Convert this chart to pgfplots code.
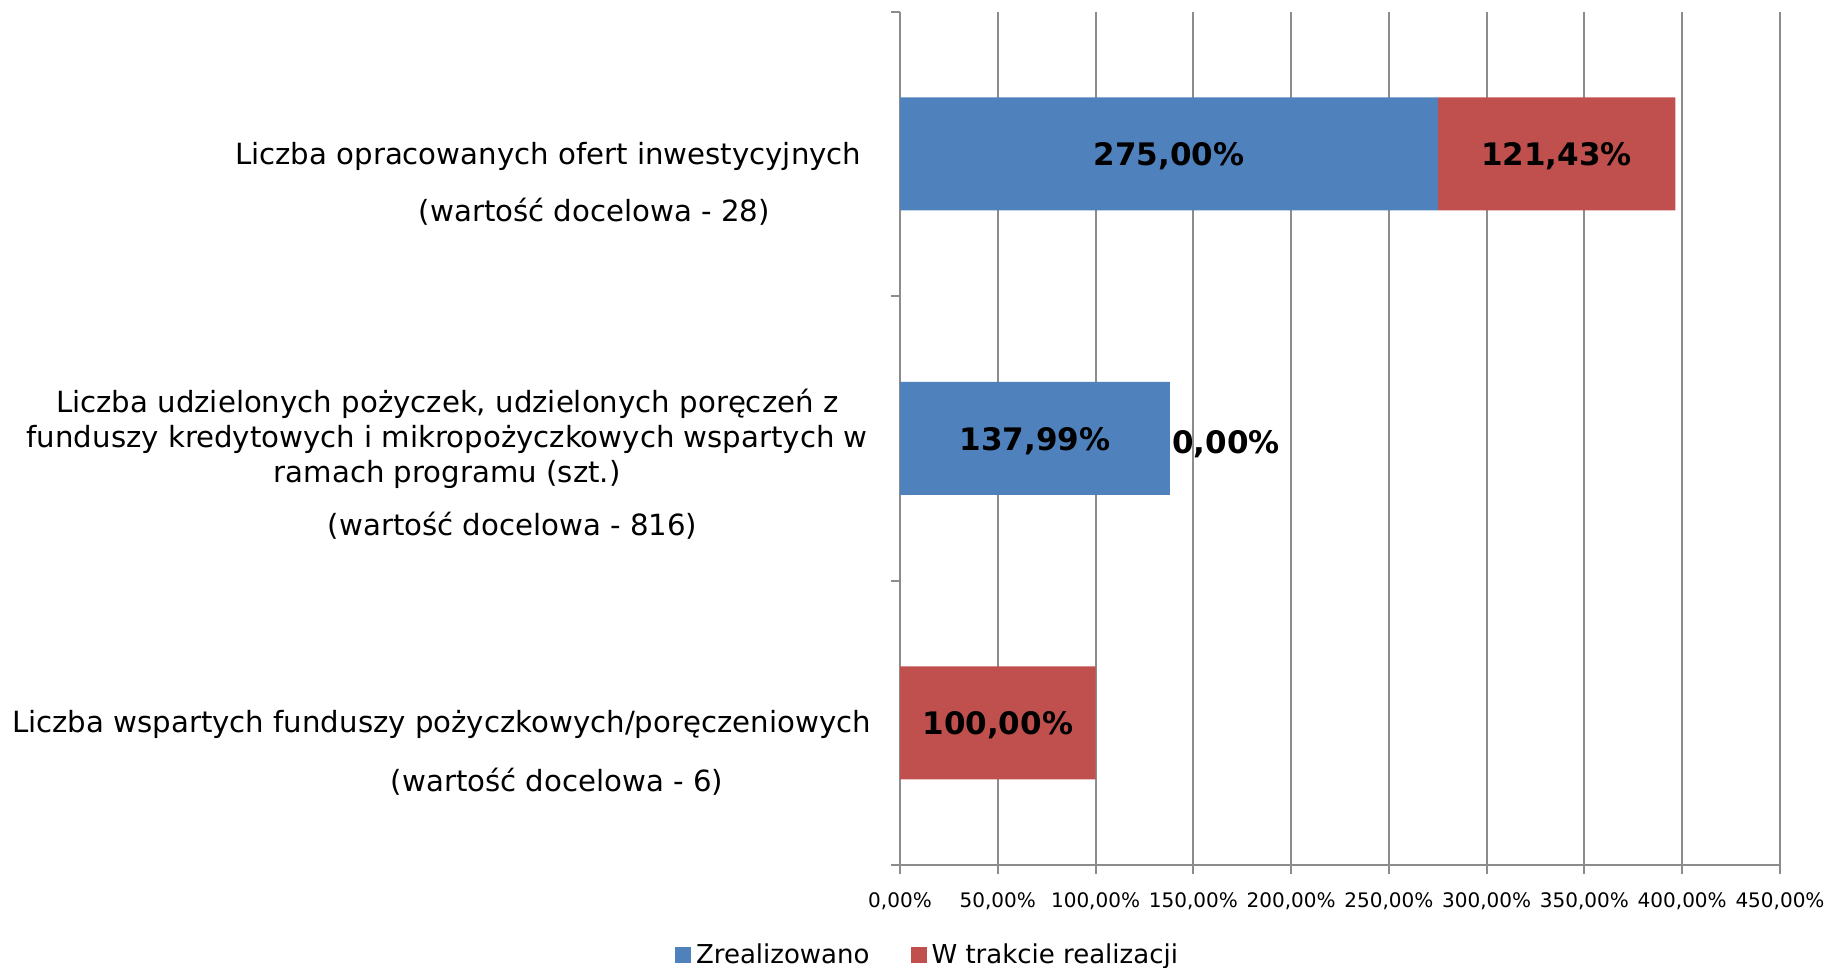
\documentclass[border=0pt]{standalone}
\usepackage{pgfplots}
\pgfplotsset{compat=1.18}
\usepackage{fontspec}
\setmainfont{DejaVu Sans}
\definecolor{barblue}{HTML}{4F81BD}
\definecolor{barred}{HTML}{C0504D}
\definecolor{gridgray}{HTML}{8C8C8C}
\begin{document}
\begin{tikzpicture}
\path[use as bounding box] (0,0) rectangle (915.5pt,484pt);
\pgfplotsset{
  baseaxis/.style={
    at={(450pt,51.5pt)}, anchor=south west,
    scale only axis, width=440pt, height=426.65pt,
    xmin=0, xmax=450, ymin=-0.5, ymax=2.5, y dir=reverse,
  }
}
\begin{axis}[baseaxis,
  xbar stacked, bar width=56.5pt,
  axis x line*=bottom, axis y line*=left,
  axis line style={gridgray, line width=1pt},
  xtick={0,50,100,150,200,250,300,350,400,450},
  xticklabels={{0,00\%},{50,00\%},{100,00\%},{150,00\%},{200,00\%},{250,00\%},{300,00\%},{350,00\%},{400,00\%},{450,00\%}},
  xticklabel style={font=\fontsize{10}{12}\selectfont, anchor=center, yshift=-13.5pt},
  ytick={-0.5,0.5,1.5,2.5}, yticklabels={,,,},
  tick align=outside, major tick length=4.5pt,
  tick style={gridgray, line width=1pt},
  xmajorgrids, grid style={gridgray, line width=1pt},
  legend image code/.code={\fill[#1, draw=none] (0pt,-4pt) rectangle (8pt,4pt);},
  legend style={at={(0.033,-0.1055)}, anchor=center, legend columns=2, draw=none,
    font=\fontsize{13}{15}\selectfont,
    nodes={inner sep=2.5pt},
    /tikz/every even column/.append style={column sep=18pt}},
]
\addplot[fill=barblue, draw=none] coordinates {(275,0) (137.99,1) (0,2)};
\addlegendentry{Zrealizowano}
\addplot[fill=barred, draw=none] coordinates {(121.43,0) (0,1) (100,2)};
\addlegendentry{W trakcie realizacji}
\end{axis}
\begin{axis}[baseaxis, hide axis]
\addplot[draw=none, mark=none, nodes near coords, point meta=explicit symbolic,
  every node near coord/.append style={anchor=center, inner sep=0pt, yshift=-1.2pt, font=\bfseries\fontsize{15.5}{18}\selectfont}]
  coordinates {(137.5,0) [275,00\%] (335.715,0) [121,43\%] (68.995,1) [137,99\%] (50,2) [100,00\%]};
\addplot[draw=none, mark=none, nodes near coords, point meta=explicit symbolic,
  every node near coord/.append style={anchor=west, inner sep=0pt, xshift=1pt, yshift=-3pt, font=\bfseries\fontsize{15.5}{18}\selectfont}]
  coordinates {(137.99,1) [0,00\%]};
\end{axis}
\begin{scope}[every node/.style={font=\fontsize{14.6}{17}\selectfont, inner sep=0pt, anchor=base}]
\node at (274.1pt,401.95pt) {Liczba opracowanych ofert inwestycyjnych};
\node at (297.2pt,373.3pt) {(wartość docelowa - 28)};
\node at (223.6pt,277.55pt) {Liczba udzielonych pożyczek, udzielonych poręczeń z};
\node at (223.6pt,260.05pt) {funduszy kredytowych i mikropożyczkowych wspartych w};
\node at (223.6pt,242.55pt) {ramach programu (szt.)};
\node at (256.3pt,216.25pt) {(wartość docelowa - 816)};
\node at (220.7pt,117.6pt) {Liczba wspartych funduszy pożyczkowych/poręczeniowych};
\node at (278.5pt,88.4pt) {(wartość docelowa - 6)};
\end{scope}
\end{tikzpicture}
\end{document}
